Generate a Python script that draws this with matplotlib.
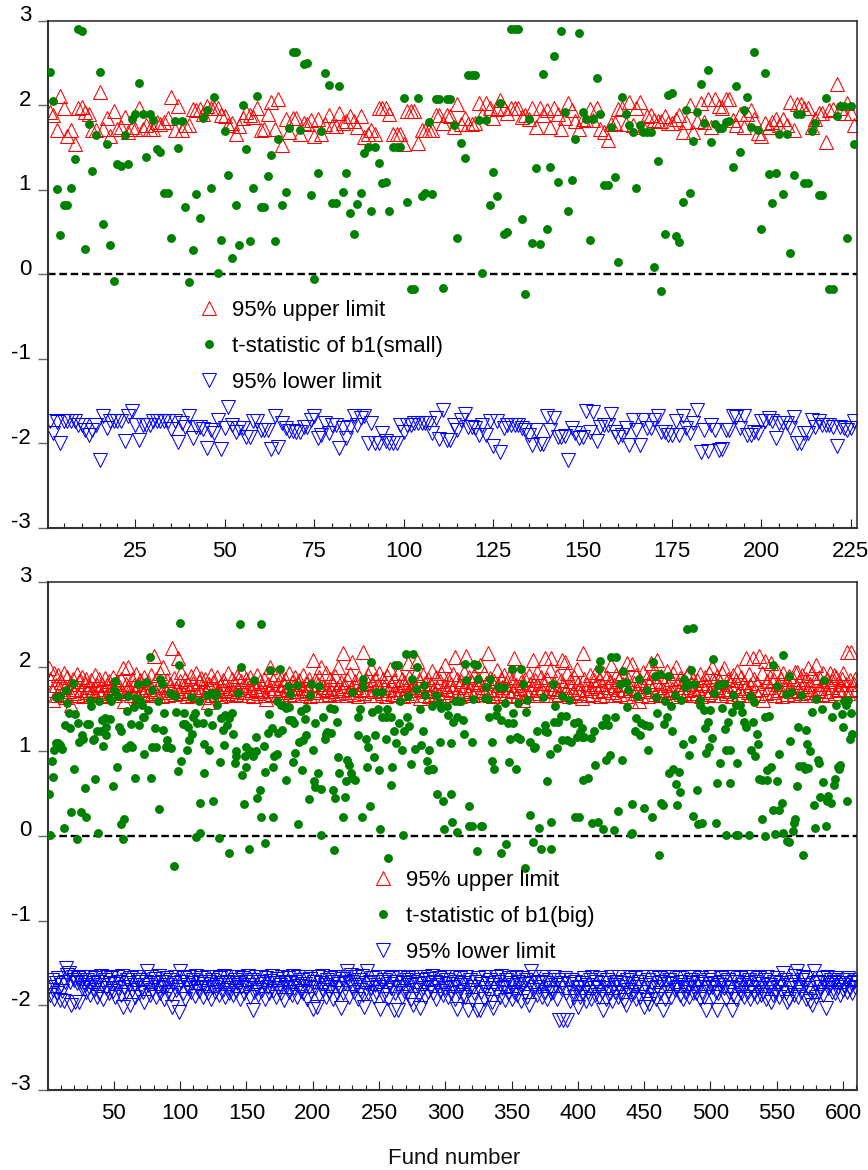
import matplotlib
matplotlib.use('Agg')
from matplotlib import pyplot as plt
from matplotlib.transforms import ScaledTranslation
from matplotlib.ticker import MultipleLocator

plt.rcParams['font.family'] = ['Liberation Sans', 'DejaVu Sans']
plt.rcParams['axes.unicode_minus'] = False

# top panel, funds 1 to 226
small_upper = [1.92,1.88,1.70,2.11,1.96,1.64,1.70,1.54,1.97,1.98,1.92,1.89,1.71,1.71,2.16,1.72,1.85,1.63,1.93,1.72,
1.74,1.86,1.68,1.74,1.72,1.96,1.72,1.77,1.72,1.72,1.80,1.78,1.80,1.85,2.09,1.71,1.99,1.71,1.76,1.76,
1.95,1.94,1.95,1.90,1.99,1.96,1.97,1.96,1.88,1.87,1.77,1.79,1.66,1.75,1.85,1.92,1.88,1.86,1.97,1.71,
1.72,1.90,2.04,1.72,2.07,1.53,1.83,1.68,1.85,1.85,1.66,1.79,1.78,1.82,1.64,1.84,1.66,1.78,1.88,1.75,
1.75,1.91,1.79,1.81,1.87,1.81,1.74,1.87,1.62,1.66,1.71,1.66,1.97,1.97,1.97,1.90,1.66,1.66,1.66,1.54,
1.93,1.93,1.93,1.55,1.70,1.70,1.70,1.70,1.88,1.88,1.79,1.88,1.87,1.74,2.01,1.78,1.85,1.78,1.78,1.79,
2.03,1.88,2.03,1.96,1.85,1.95,2.06,1.96,1.91,1.97,1.97,1.97,1.86,1.88,1.84,1.96,1.74,1.96,1.88,1.94,
1.74,1.96,1.89,1.72,1.85,2.02,1.94,1.81,1.72,1.83,1.82,1.95,1.82,1.97,1.72,1.68,1.59,1.78,1.79,1.95,
1.96,1.78,2.04,1.76,1.96,2.04,1.74,1.87,1.88,1.82,1.81,1.81,1.87,1.79,1.79,1.84,1.88,1.68,1.80,2.00,
1.68,1.81,2.02,1.80,2.07,1.74,2.07,1.99,1.97,2.07,2.07,1.82,1.76,1.90,1.74,1.90,1.94,1.84,1.67,1.64,
1.79,1.74,1.80,1.84,1.77,1.84,1.76,2.04,1.71,2.01,2.01,1.97,1.97,1.74,1.84,1.91,1.91,1.56,1.94,1.95,
2.25,1.96,1.91,2.02,1.91,1.77]

small_t = [2.39,2.05,1.01,0.46,0.82,0.82,1.02,1.36,2.90,2.88,0.30,1.78,1.22,1.65,2.39,0.60,1.54,0.35,-0.08,1.30,
1.28,1.65,1.30,1.83,1.90,2.26,1.90,1.39,1.90,1.82,1.48,1.45,0.96,0.96,0.43,1.81,1.49,1.81,0.80,-0.09,
0.29,0.95,0.66,1.85,1.94,1.02,2.09,0.02,0.40,1.69,1.17,0.19,0.82,0.35,2.00,1.48,0.39,1.02,2.11,0.80,
0.80,1.16,1.41,0.39,1.60,0.82,0.97,1.73,2.63,2.63,1.71,2.49,2.50,0.94,-0.06,1.20,1.69,2.38,2.24,0.84,
0.84,2.22,0.97,1.20,0.72,0.48,0.83,0.96,1.43,1.51,0.75,1.50,1.31,1.08,1.09,0.75,1.51,1.50,1.50,2.08,
0.86,-0.18,-0.18,2.08,0.93,0.96,1.80,0.95,2.07,2.07,-0.16,2.07,2.07,1.76,0.43,1.55,1.38,2.36,2.36,2.36,
1.82,0.02,1.82,0.82,1.21,0.93,2.02,0.47,0.50,2.90,2.90,2.90,0.65,-0.23,1.84,0.37,1.26,0.36,2.37,0.54,
1.27,2.58,1.09,2.87,1.92,0.75,1.12,1.60,2.85,1.92,1.84,0.41,1.83,2.32,1.89,1.06,1.05,1.74,1.15,0.15,
2.09,1.89,1.76,1.68,1.02,1.76,1.68,1.68,1.68,0.09,1.34,-0.20,0.47,2.12,2.14,0.45,0.38,0.85,1.94,0.96,
1.58,1.92,2.25,1.79,2.42,1.56,1.78,1.73,1.73,1.80,1.81,1.27,2.22,1.45,1.94,2.10,1.74,2.63,1.70,0.54,
2.38,1.18,0.84,1.20,1.66,0.95,1.66,0.25,1.17,1.90,1.90,1.08,1.08,1.69,1.79,0.94,0.94,2.08,-0.17,-0.17,
1.87,1.99,1.99,0.43,1.99,1.54]

small_lower = [-1.74,-1.88,-1.75,-2.00,-1.74,-1.74,-1.74,-1.74,-1.78,-1.78,-1.84,-1.90,-1.84,-1.78,-2.20,-1.68,-1.82,-1.74,-1.74,-1.74,
-1.74,-1.97,-1.68,-1.62,-1.78,-1.96,-1.78,-1.78,-1.78,-1.74,-1.74,-1.73,-1.73,-1.73,-1.83,-1.73,-1.98,-1.76,-1.80,-1.68,
-1.94,-1.80,-1.80,-1.83,-2.06,-1.84,-1.88,-1.72,-2.07,-1.82,-1.57,-1.78,-1.86,-1.82,-1.82,-1.92,-1.92,-1.74,-1.73,-1.84,
-1.84,-1.84,-2.07,-1.68,-2.04,-1.76,-1.82,-1.85,-1.85,-1.86,-1.86,-1.80,-1.80,-1.72,-1.68,-1.94,-1.90,-1.76,-1.88,-1.78,
-1.78,-2.05,-1.82,-1.94,-1.81,-1.67,-1.78,-1.70,-1.67,-1.99,-1.76,-1.99,-1.99,-1.88,-1.97,-1.99,-1.99,-1.99,-1.78,-1.86,
-1.78,-1.78,-1.76,-1.76,-1.76,-1.76,-1.76,-1.88,-1.70,-1.95,-1.60,-1.96,-1.96,-1.78,-1.84,-1.72,-1.65,-1.80,-1.80,-1.82,
-1.90,-1.78,-1.90,-1.73,-2.03,-1.74,-2.10,-1.82,-1.78,-1.78,-1.78,-1.78,-1.82,-1.84,-1.90,-2.02,-1.84,-2.01,-2.01,-1.68,
-1.84,-1.70,-1.92,-1.92,-1.91,-2.20,-1.82,-1.88,-1.94,-1.92,-1.62,-1.86,-1.63,-1.97,-1.80,-1.78,-1.78,-1.65,-1.86,-1.93,
-1.90,-1.82,-2.02,-1.72,-1.84,-2.02,-1.72,-1.82,-1.82,-1.72,-1.68,-1.86,-1.86,-1.90,-1.90,-1.73,-1.90,-1.68,-1.82,-1.88,
-1.76,-1.61,-2.10,-1.84,-2.09,-1.78,-1.84,-2.08,-2.07,-1.84,-1.84,-1.68,-1.69,-1.82,-1.68,-1.90,-1.90,-1.86,-1.88,-1.74,
-1.74,-1.70,-1.73,-1.94,-1.76,-1.76,-1.76,-1.82,-1.69,-2.00,-2.00,-1.88,-1.88,-1.72,-1.80,-1.74,-1.78,-1.78,-1.78,-1.80,
-2.03,-1.80,-1.82,-1.84,-1.82,-1.74]

# bottom panel, funds 1 to 610 (band values are estimates, the dense band overlaps)
big_upper = [1.98,1.85,1.72,1.61,1.93,1.78,1.66,1.90,1.74,1.82,
1.68,1.92,1.76,1.64,1.88,1.71,1.80,1.55,1.86,1.69,
1.74,1.91,1.67,1.83,1.72,1.88,1.65,1.79,1.85,1.70,
1.76,1.68,1.84,1.73,1.66,1.90,1.78,1.71,1.86,1.67,
1.80,1.74,1.87,1.65,1.78,1.83,1.69,1.76,1.88,1.72,
1.66,1.82,1.75,1.69,1.85,1.71,1.98,1.59,1.80,1.73,
2.00,1.74,1.67,1.86,1.78,1.70,1.91,1.65,1.79,1.84,
1.72,1.68,1.88,1.76,1.66,1.82,1.74,1.90,1.69,2.13,
1.71,1.85,1.67,1.78,1.93,1.65,2.00,1.76,1.70,1.84,
1.66,1.80,1.73,2.22,1.87,1.68,1.75,2.10,1.71,1.83,
1.94,1.69,1.77,1.86,1.65,1.79,1.72,1.89,1.67,1.81,
1.74,1.92,1.68,1.83,1.70,1.87,1.76,1.64,1.85,1.72,
1.58,1.79,1.90,1.67,1.82,1.74,1.68,1.88,1.71,1.77,
1.65,1.84,1.73,1.79,1.69,1.92,1.75,1.66,1.86,1.71,
1.80,1.68,1.89,1.74,1.66,1.83,1.94,1.70,1.78,1.85,
1.67,1.76,1.88,1.72,1.65,1.81,1.74,1.90,1.69,1.83,
1.71,1.77,1.86,1.66,1.62,1.79,1.73,2.00,1.68,1.84,
1.75,1.91,1.67,1.80,1.72,1.87,1.65,1.78,1.85,1.70,
1.74,1.92,1.68,1.82,1.76,1.66,1.88,1.71,1.79,1.84,
1.67,1.75,1.90,1.69,1.81,1.73,1.86,1.65,1.78,2.08,
1.70,1.84,1.66,1.79,1.88,2.00,1.72,1.76,1.67,1.93,
1.74,1.68,1.85,1.71,1.80,1.66,1.89,1.75,2.00,1.69,
1.82,1.73,2.16,1.77,1.66,1.86,1.70,1.91,1.74,2.06,
1.68,1.83,1.76,1.65,1.88,1.72,1.79,2.17,1.69,1.84,
1.74,1.90,1.67,1.98,1.81,1.71,1.86,1.66,1.78,1.93,
1.73,1.69,1.85,1.76,1.65,1.89,1.72,1.97,1.80,1.68,
1.84,1.74,1.67,1.92,1.78,1.70,1.86,1.65,1.82,1.75,
1.69,2.04,1.88,1.72,1.66,1.80,1.76,1.93,2.07,1.84,
1.63,1.74,1.90,1.67,1.81,1.71,1.86,1.65,1.79,1.95,
1.73,1.68,1.88,1.75,1.66,1.83,1.92,1.70,1.77,2.02,
1.74,1.85,1.67,1.80,1.72,1.91,2.11,1.68,1.86,1.76,
1.65,1.83,1.71,1.94,1.78,2.13,1.69,1.88,1.74,1.82,
1.66,1.90,1.73,1.79,1.85,2.02,1.68,1.76,1.92,1.70,
1.81,2.16,1.67,1.87,1.74,1.65,1.83,1.72,1.96,1.78,
1.69,1.85,1.76,1.90,1.66,1.80,1.73,1.88,1.67,1.84,
1.71,2.10,1.78,1.65,1.92,1.75,1.82,1.69,1.61,1.86,
1.74,1.67,1.90,1.79,1.72,2.08,1.66,1.84,1.94,1.76,
1.69,1.88,1.73,1.81,2.10,1.67,1.85,1.75,1.96,2.10,
1.71,1.80,1.66,1.89,1.74,1.68,1.84,2.08,1.78,2.06,
1.72,1.92,1.65,1.83,1.76,1.70,1.88,1.67,1.97,1.81,
1.74,1.69,1.63,2.16,1.85,1.72,1.79,1.66,1.90,1.75,
1.68,1.84,1.77,1.94,1.71,1.86,1.65,1.80,1.92,1.73,
1.67,1.88,1.76,1.83,2.02,1.70,1.78,1.66,1.90,1.74,
1.85,1.68,1.93,1.79,1.72,1.65,2.04,1.86,1.75,1.59,
2.03,1.81,1.69,1.90,1.73,1.59,1.84,1.67,1.94,1.77,
1.71,1.88,1.65,1.80,2.04,1.74,1.92,1.68,1.83,2.08,
1.76,1.66,1.89,1.72,1.81,1.67,1.95,1.78,1.70,1.85,
1.74,1.92,1.65,2.00,1.79,1.71,1.87,1.68,1.83,1.76,
1.66,1.90,1.73,1.94,1.80,1.69,1.86,1.74,1.67,1.84,
1.75,1.91,1.65,1.81,1.72,1.88,1.78,1.68,1.93,1.70,
2.00,1.85,1.66,1.76,1.89,1.73,1.82,1.67,1.92,1.99,
1.74,1.69,1.86,1.71,1.80,1.65,1.90,1.77,1.84,1.95,
1.68,1.73,1.88,1.66,1.82,1.75,2.10,1.70,1.91,1.78,
1.67,2.10,1.85,1.72,1.81,1.66,2.13,1.74,1.93,1.61,
2.07,1.69,1.83,1.76,1.88,2.04,1.70,1.84,1.67,1.95,
1.79,1.72,1.86,1.65,1.92,1.74,1.80,1.68,1.89,1.76,
1.71,1.85,1.66,1.94,1.94,1.73,1.82,1.69,1.90,1.77,
1.67,1.86,1.74,1.98,1.79,1.70,1.92,1.66,1.84,2.02,
1.72,1.88,1.75,1.68,1.93,1.80,1.71,1.85,1.67,1.92,
1.76,1.83,1.90,1.69,1.88,1.72,1.74,1.80,1.85,1.92,
1.72,1.80,2.17,1.69,1.84,2.17,1.74,1.80,1.85,1.72]

big_lower = [-1.78,-1.88,-1.70,-1.82,-1.92,-1.74,-1.85,-1.68,-1.94,-1.76,
-1.83,-1.95,-1.72,-1.56,-1.64,-1.62,-1.72,-2.00,-1.66,-1.70,
-1.96,-1.74,-1.68,-1.96,-1.72,-1.80,-1.67,-1.76,-1.84,-1.70,
-1.78,-1.88,-1.66,-1.74,-1.82,-1.68,-1.90,-1.72,-1.85,-1.65,
-1.76,-1.92,-1.70,-1.80,-1.66,-1.86,-1.74,-1.68,-1.83,-1.75,
-1.90,-1.67,-1.79,-1.72,-1.88,-1.65,-2.02,-1.78,-1.84,-1.70,
-1.74,-2.00,-1.68,-1.82,-1.76,-1.90,-1.66,-1.73,-1.86,-1.70,
-1.79,-1.84,-1.96,-1.72,-1.60,-1.76,-1.88,-1.67,-1.82,-1.74,
-1.69,-1.90,-1.78,-1.65,-1.85,-1.72,-1.80,-1.93,-1.68,-1.76,
-1.84,-1.70,-1.88,-2.02,-1.74,-1.66,-1.82,-1.78,-2.08,-1.59,
-1.72,-1.86,-1.68,-1.92,-1.76,-1.80,-1.66,-1.84,-1.74,-1.70,
-1.89,-1.65,-1.78,-1.83,-1.72,-1.68,-1.90,-1.75,-1.80,-1.67,
-1.86,-1.73,-1.92,-1.70,-1.78,-1.84,-1.66,-1.76,-1.88,-1.68,
-1.74,-1.82,-1.65,-1.90,-1.72,-1.79,-1.85,-1.67,-1.76,-1.88,
-1.70,-1.83,-1.74,-1.66,-1.92,-1.78,-1.68,-1.86,-1.72,-1.80,
-1.65,-1.76,-1.90,-1.70,-2.05,-1.84,-1.67,-1.79,-1.88,-1.73,
-1.66,-1.82,-1.75,-1.92,-1.68,-1.78,-1.86,-1.71,-1.65,-1.83,
-1.74,-1.90,-1.69,-1.80,-1.76,-1.85,-1.66,-1.94,-1.72,-1.78,
-1.68,-1.84,-1.74,-1.88,-1.65,-1.80,-1.72,-1.90,-1.67,-1.77,
-1.83,-1.70,-1.86,-1.75,-1.66,-1.92,-1.78,-1.69,-1.84,-2.04,
-1.72,-1.80,-2.02,-1.67,-1.88,-1.74,-1.65,-1.82,-1.76,-1.90,
-1.70,-1.84,-1.68,-1.78,-1.92,-1.72,-1.66,-1.86,-1.75,-1.80,
-2.03,-1.69,-1.85,-1.74,-1.66,-1.60,-1.90,-1.72,-1.64,-1.78,
-1.84,-1.67,-1.76,-1.92,-1.70,-1.82,-1.65,-1.88,-2.02,-1.74,
-1.60,-1.86,-1.72,-1.80,-1.68,-1.90,-1.76,-1.84,-1.66,-1.78,
-2.04,-1.73,-1.88,-1.70,-1.82,-1.67,-1.92,-1.75,-1.80,-1.68,
-2.05,-1.85,-1.72,-2.06,-1.78,-1.66,-1.90,-1.74,-1.83,-1.70,
-1.86,-1.68,-1.76,-1.92,-1.72,-2.00,-1.66,-1.82,-1.75,-1.88,
-2.03,-1.70,-1.80,-1.67,-1.90,-1.74,-1.84,-1.69,-1.78,-1.65,
-1.86,-1.72,-1.92,-1.76,-1.68,-1.83,-1.74,-1.88,-1.66,-1.80,
-1.70,-1.90,-1.75,-1.85,-1.67,-1.78,-1.92,-1.72,-2.04,-1.84,
-1.68,-1.76,-1.88,-1.74,-1.90,-1.66,-2.05,-1.82,-1.70,-1.94,
-1.78,-1.86,-1.72,-2.06,-1.68,-2.05,-1.84,-1.75,-1.92,-1.66,
-1.80,-1.74,-1.88,-1.70,-1.96,-2.03,-1.76,-1.67,-1.84,-1.72,
-1.90,-1.65,-1.80,-1.78,-1.94,-1.70,-1.86,-1.68,-1.74,-1.92,
-1.76,-1.84,-1.66,-1.88,-1.72,-1.80,-1.95,-1.68,-1.75,-1.86,
-1.70,-1.90,-2.00,-1.74,-1.60,-1.82,-1.67,-1.78,-1.88,-1.72,
-1.78,-1.72,-1.90,-1.66,-1.84,-1.74,-1.92,-1.70,-1.80,-1.86,
-1.84,-1.66,-1.76,-1.92,-1.70,-2.17,-1.80,-1.74,-2.17,-1.68,
-1.86,-2.17,-1.75,-1.95,-1.70,-1.84,-1.90,-1.72,-1.80,-2.02,
-1.78,-1.90,-1.74,-1.86,-1.68,-1.95,-1.76,-1.84,-1.70,-1.92,
-1.66,-1.80,-1.88,-1.73,-1.78,-1.90,-1.68,-1.84,-2.05,-1.74,
-1.92,-1.70,-1.80,-1.86,-1.66,-1.95,-1.76,-1.84,-1.72,-1.90,
-1.67,-1.78,-1.86,-1.74,-1.94,-2.00,-1.70,-1.82,-1.66,-1.88,
-1.75,-1.84,-1.68,-1.92,-1.78,-1.72,-1.90,-1.66,-1.84,-2.02,
-1.76,-1.94,-1.70,-1.98,-1.80,-1.74,-1.88,-1.67,-1.92,-1.78,
-1.68,-1.86,-1.72,-2.05,-1.66,-1.92,-1.75,-1.84,-1.70,-1.90,
-1.74,-1.66,-1.82,-1.80,-1.78,-1.68,-1.88,-1.72,-1.93,-1.76,
-1.84,-1.67,-1.80,-1.90,-1.70,-1.74,-1.86,-1.66,-1.86,-1.78,
-1.72,-1.92,-1.68,-1.84,-1.90,-1.75,-2.05,-1.70,-1.80,-1.66,
-1.78,-1.90,-1.74,-1.84,-2.06,-1.86,-1.76,-1.68,-1.72,-1.80,
-1.66,-1.92,-1.70,-1.84,-1.78,-2.06,-1.88,-1.67,-1.93,-1.72,
-1.80,-1.68,-1.86,-1.76,-1.90,-1.66,-1.74,-1.84,-1.70,-1.92,
-1.78,-1.66,-1.86,-1.72,-1.90,-1.80,-1.68,-1.88,-1.75,-1.84,
-1.70,-1.92,-1.66,-1.80,-1.76,-1.96,-1.88,-1.72,-1.84,-1.68,
-1.78,-1.90,-1.74,-1.84,-1.62,-1.70,-1.86,-1.96,-1.92,-1.76,
-1.80,-1.72,-1.88,-1.65,-1.60,-1.90,-1.78,-1.84,-1.70,-1.66,
-1.76,-1.92,-1.68,-1.80,-1.95,-1.86,-2.00,-1.59,-1.74,-1.90,
-1.72,-1.84,-1.78,-1.68,-1.88,-1.74,-2.03,-1.66,-1.80,-1.76,
-1.70,-1.84,-1.72,-1.86,-1.68,-1.78,-1.74,-1.88,-1.70,-1.82,
-1.76,-1.70,-1.84,-1.68,-1.80,-1.74,-1.86,-1.72,-1.78,-1.70]

big_t_x = [1,2,3,4,5,6,6,8,9,9,11,12,13,14,15,16,17,18,19,20,21,22,23,24,25,26,27,28,29,30,31,32,33,34,35,36,37,38,39,40,41,42,43,44,44,46,47,48,49,50,
51,52,53,54,55,55,57,58,59,60,61,62,63,64,65,66,67,68,69,70,71,72,73,73,74,76,77,78,79,79,81,82,83,84,85,86,87,88,89,90,91,92,93,94,95,96,97,98,99,100,
101,102,103,104,105,106,107,108,109,110,111,112,113,114,115,115,117,118,118,120,121,122,123,124,125,126,127,128,129,130,131,132,133,134,135,137,137,139,140,141,142,142,144,145,146,147,148,149,150,150,
152,153,155,156,157,157,158,160,161,161,163,164,164,166,167,168,169,170,170,171,173,173,174,175,176,177,178,180,180,181,182,182,183,184,185,186,187,188,189,190,191,192,193,194,195,195,197,198,199,200,
201,202,202,204,205,206,206,208,209,210,211,213,214,215,216,216,217,218,219,220,223,224,225,226,227,229,230,230,232,234,234,236,237,238,238,240,241,242,243,244,245,246,247,248,249,250,251,252,252,255,
255,256,257,259,259,260,261,262,263,264,265,266,267,268,269,270,271,272,273,274,275,276,277,278,279,281,282,283,284,285,286,287,288,290,290,291,293,294,295,296,297,298,299,301,302,304,304,305,306,307,
309,309,310,312,313,314,315,316,318,318,320,320,321,322,324,324,325,327,328,330,331,332,333,334,335,335,337,338,339,340,342,342,344,345,346,347,348,349,350,351,351,353,354,355,356,357,359,360,361,362,
364,364,366,367,368,369,371,372,374,375,375,377,377,379,380,380,381,382,383,384,385,387,388,388,391,392,393,395,397,398,399,400,401,402,403,403,404,405,408,410,411,412,413,415,416,417,418,419,421,421,
423,424,425,427,428,429,430,432,433,434,436,437,438,440,441,441,443,444,445,446,447,448,450,451,452,453,454,456,457,458,459,460,461,462,463,464,465,466,467,468,469,470,471,472,473,474,475,476,477,478,
479,480,481,482,483,484,485,486,487,487,488,490,491,492,492,494,495,496,497,498,499,500,501,502,503,504,505,506,507,508,509,510,511,512,512,513,515,515,516,517,519,519,520,521,522,524,525,527,529,530,
531,532,533,534,535,536,537,539,539,541,541,543,543,544,546,547,547,549,550,550,552,552,554,555,555,557,558,559,559,560,561,562,563,564,565,566,567,568,570,570,571,572,573,574,575,577,578,579,580,581,
582,583,584,585,586,587,588,589,591,592,593,594,595,596,597,598,599,600,601,602,603,604,605,606,607]

big_t = [.50,.01,.89,.70,1.01,1.10,1.64,1.10,1.07,1.65,1.03,.10,1.31,1.73,1.57,1.45,1.28,.28,1.81,.79,1.44,-.04,1.33,1.11,.28,1.19,1.15,.57,.23,1.32,1.32,1.61,1.54,1.13,1.15,.67,1.24,.03,1.59,1.24,1.37,1.06,1.39,1.29,1.19,1.63,1.38,1.60,.59,1.73,
1.83,.82,1.65,1.29,1.24,.14,-.04,.20,1.04,1.48,1.65,1.07,1.32,1.05,1.52,.68,1.63,1.80,1.31,1.61,1.55,1.41,.97,1.41,1.82,1.49,2.11,.68,1.05,1.72,1.27,1.05,1.59,.32,1.85,1.80,1.25,1.45,1.05,1.13,1.05,1.69,1.04,1.68,-.35,1.65,1.46,.77,2.02,2.52,
.88,1.32,1.45,1.32,1.01,1.29,1.13,1.64,1.21,1.41,1.45,-.01,1.34,1.59,.39,.03,1.33,.74,1.09,1.67,1.47,1.02,1.69,1.31,.41,1.65,1.69,1.55,-.02,.87,1.39,1.25,1.07,1.43,1.31,-.20,1.39,1.45,1.21,.86,1.00,.94,1.69,2.50,2.00,.72,.38,.95,1.05,.82,
-.15,1.00,.94,1.84,1.17,1.00,.45,.54,2.50,.23,1.06,-.08,.76,1.22,1.44,1.96,1.27,.23,.82,.95,.97,1.59,1.22,1.97,1.55,1.25,1.53,.66,1.51,1.77,1.52,1.37,1.68,1.37,.87,1.33,.98,1.78,.14,1.11,1.48,.78,1.13,1.38,1.51,1.19,.44,1.67,1.80,1.02,
.65,1.33,.58,.75,1.77,.56,.01,1.41,1.15,1.21,1.23,1.51,1.22,.54,-.17,1.50,.45,1.35,.93,.75,.23,.46,.65,.90,.84,.75,.68,1.70,.66,1.19,1.40,1.50,.23,1.85,1.76,1.15,.81,1.05,.35,2.05,1.47,.93,1.19,1.70,1.50,.78,.08,1.40,1.70,1.15,
1.41,1.50,-.26,.60,1.40,.82,1.24,2.02,1.10,2.02,1.34,1.59,1.01,.01,1.24,2.15,1.40,1.65,1.30,.85,1.85,2.15,1.03,1.74,2.00,1.50,1.07,1.24,1.78,1.67,.89,.78,1.02,.79,1.53,.79,1.67,.50,1.57,1.11,1.51,.41,.08,1.53,1.43,.50,1.10,.16,1.35,1.59,
.05,1.41,1.59,1.59,1.37,1.20,2.03,1.84,.35,.12,.12,1.11,1.62,2.03,-.18,2.02,1.85,.12,.12,1.63,1.76,1.62,1.40,1.86,.88,1.11,.79,1.43,1.51,1.76,-.20,1.37,1.76,1.57,-.09,1.33,.87,1.15,1.97,1.34,1.45,.79,1.17,1.57,1.14,1.97,1.80,-.38,1.46,1.61,
1.11,.25,-.07,1.04,1.05,1.24,.10,-.15,1.64,1.24,1.31,1.23,.65,.97,-.15,.17,1.80,1.35,1.53,1.04,1.35,1.42,1.13,1.65,1.42,1.13,1.61,1.11,1.34,.22,1.17,1.35,.22,1.23,1.27,1.17,.66,1.17,.68,1.16,.15,1.24,.84,.17,1.97,2.07,1.31,.08,1.39,.90,
1.31,.96,2.11,.07,1.41,2.11,.29,1.80,.90,1.95,1.82,1.52,1.73,.02,.04,.38,1.24,1.39,1.65,1.85,1.19,1.33,.33,1.31,1.73,1.02,1.30,.23,2.06,1.89,1.64,1.45,-.22,1.91,.39,.37,1.32,1.59,1.41,1.89,.75,1.53,1.24,.79,1.67,.62,.37,.76,.52,1.61,
1.09,1.85,1.76,2.45,1.79,.96,1.96,1.15,.24,2.46,1.80,.54,.14,1.55,1.61,.15,1.49,1.27,.98,1.35,1.05,1.49,1.16,2.09,1.69,.15,.63,1.78,.86,1.80,1.51,1.80,1.26,.01,1.01,1.35,1.02,.63,1.46,1.67,1.55,.01,.86,.01,1.55,1.47,1.35,1.29,.01,1.65,
1.02,1.35,1.58,.94,1.20,1.09,.67,.66,.20,0.0,1.40,.66,.78,1.42,.81,2.02,.31,.02,.65,1.77,.97,.31,.39,2.14,.04,1.68,-.06,1.89,-.07,1.12,1.70,.06,.15,.20,.59,1.29,.83,1.67,.83,-.22,.79,1.25,1.09,.80,1.00,1.47,.37,.09,1.62,.90,
.86,.46,1.50,.64,1.84,.12,.41,.47,.39,1.41,.60,.67,1.55,.82,.79,.84,1.44,1.29,1.60,1.55,.41,1.61,1.15,1.45,1.20]

small_ticks = [25, 50, 75, 100, 125, 150, 175, 200, 225]
big_ticks = [50, 100, 150, 200, 250, 300, 350, 400, 450, 500, 550, 600]
y_ticks = [-3, -2, -1, 0, 1, 2, 3]


def panel(rect, xlim, x_t, upper, t, lower, label_t, ticks, minor, leg_anchor):
    ax = fig.add_axes(rect)
    ax.axhline(0, color='black', lw=1.7, linestyle=(0, (3.2, 1.6)), zorder=1)
    ax.plot(range(1, len(upper) + 1), upper, linestyle='none', marker='^', ms=9.8, mfc='none',
            mec='#ff0000', mew=0.75, label='95% upper limit', zorder=2)
    ax.plot(x_t, t, linestyle='none', marker='o', ms=6.4, mfc='#008000', mec='#008000', mew=0,
            label=label_t, zorder=3)
    ax.plot(range(1, len(lower) + 1), lower, linestyle='none', marker='v', ms=9.8, mfc='none',
            mec='#0000ff', mew=0.75, label='95% lower limit', zorder=2)
    ax.set_xlim(xlim)
    ax.set_ylim(-3, 3)
    ax.set_xticks(ticks)
    ax.xaxis.set_minor_locator(MultipleLocator(minor))
    ax.set_yticks(y_ticks)
    ax.tick_params(axis='x', which='major', direction='in', length=6.5, width=0.8, color='#222222',
                   labelsize=16, pad=9.5)
    ax.tick_params(axis='x', which='minor', direction='in', length=3.6, width=0.8, color='#222222')
    ax.tick_params(axis='y', direction='out', length=7.2, width=1.0, color='#666666', labelsize=16, pad=5)
    for lab in ax.get_yticklabels():
        lab.set_transform(lab.get_transform() + ScaledTranslation(0, 0.075, fig.dpi_scale_trans))
    for s in ['left', 'bottom']:
        ax.spines[s].set_linewidth(1.5)
        ax.spines[s].set_color('#333333')
    for s in ['top', 'right']:
        ax.spines[s].set_linewidth(1.1)
        ax.spines[s].set_color('#222222')
    ax.legend(loc='upper left', bbox_to_anchor=leg_anchor, frameon=False, fontsize=16, numpoints=1,
              labelspacing=0.68, handlelength=1.0, handletextpad=0.55, borderpad=0, borderaxespad=0)
    return ax


fig = plt.figure(figsize=(8.68, 11.70), dpi=100)
ax1 = panel([48 / 868, 1 - 528 / 1170, 809 / 868, 507.5 / 1170], (0.58, 226.7), range(1, len(small_t) + 1),
            small_upper, small_t, small_lower, 't-statistic of b1(small)', small_ticks, 5, (0.185, 0.45))
ax2 = panel([48 / 868, 1 - 1090 / 1170, 809 / 868, 508 / 1170], (0.3, 610.6), big_t_x,
            big_upper, big_t, big_lower, 't-statistic of b1(big)', big_ticks, 10, (0.4, 0.434))
fig.text(454 / 868, 1 - 1158 / 1170, 'Fund number', fontsize=16, ha='center', va='center', color='#111111')

fig.savefig('out.png', dpi=100)
